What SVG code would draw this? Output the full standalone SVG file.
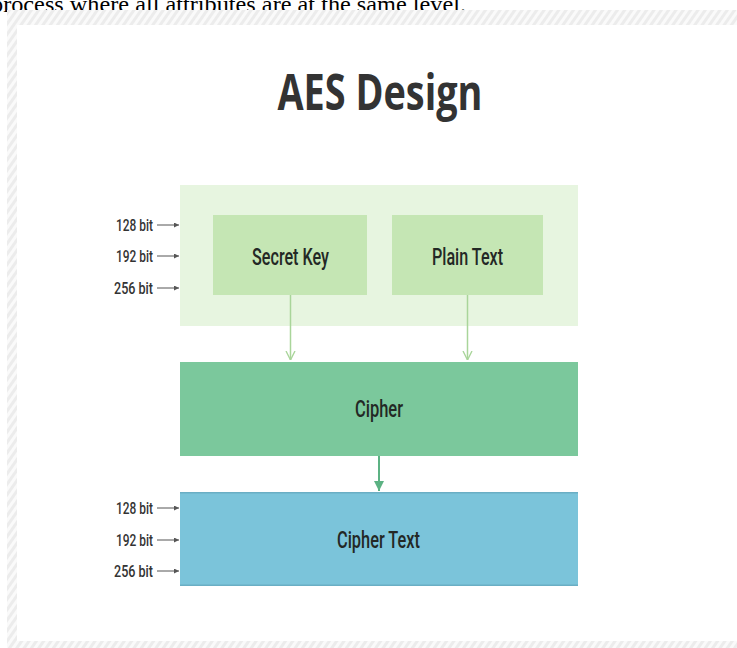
<svg xmlns="http://www.w3.org/2000/svg" width="737" height="648" viewBox="0 0 737 648">
<defs>
<pattern id="hatch" width="6" height="6" patternUnits="userSpaceOnUse" patternTransform="rotate(35)">
<rect width="6" height="6" fill="#fafafa"/>
<rect width="3" height="6" fill="#ececec"/>
</pattern>
<marker id="ah-small" viewBox="0 0 6 6" refX="6" refY="3" markerWidth="5" markerHeight="5" orient="auto" markerUnits="userSpaceOnUse">
<path d="M0,0 L6,3 L0,6 Z" fill="#555"/>
</marker>
<marker id="ah-light" viewBox="0 0 10 10" refX="10" refY="5" markerWidth="9" markerHeight="12" orient="auto" markerUnits="userSpaceOnUse">
<path d="M0,0 L10,5 L0,10" fill="none" stroke="#a9d59a" stroke-width="1.5"/>
</marker>
<marker id="ah-dark" viewBox="0 0 10 10" refX="10" refY="5" markerWidth="10" markerHeight="12" orient="auto" markerUnits="userSpaceOnUse">
<path d="M0,0 L10,5 L0,10 Z" fill="#5cb283"/>
</marker>
</defs>
<style>
.lbl{font-family:Roboto,"Liberation Sans",Arial,sans-serif;font-weight:500;font-size:16px;fill:#333;}
.node{font-family:Roboto,"Liberation Sans",Arial,sans-serif;font-weight:500;font-size:23px;fill:#232825;text-anchor:middle;}
.tick{stroke:#555;stroke-width:1;marker-end:url(#ah-small);}
</style>
<rect width="737" height="648" fill="#fff"/>
<text x="-9" y="12" font-family="Liberation Serif,Times New Roman,serif" font-size="24" fill="#000" textLength="475" lengthAdjust="spacingAndGlyphs">process where all attributes are at the same level.</text>
<path d="M7,10 H737 V648 H7 Z M17,25 V641 H737 V25 Z" fill="url(#hatch)" fill-rule="evenodd"/>
<rect x="17" y="25" width="720" height="616" fill="#fff"/>
<text x="380" y="110" font-family="Open Sans,Liberation Sans,sans-serif" font-weight="bold" font-size="50" fill="#333" text-anchor="middle" textLength="205" lengthAdjust="spacingAndGlyphs">AES Design</text>
<g id="inputs">
<rect x="180" y="185" width="398" height="141" fill="#e7f5e0"/>
</g>
<g id="secret-key">
<rect x="213" y="215" width="154" height="80" fill="#c5e6b4"/>
<text class="node" x="290.5" y="265" textLength="77" lengthAdjust="spacingAndGlyphs">Secret Key</text>
</g>
<g id="plain-text">
<rect x="392" y="215" width="151" height="80" fill="#c5e6b4"/>
<text class="node" x="467.5" y="265" textLength="71" lengthAdjust="spacingAndGlyphs">Plain Text</text>
</g>
<g id="cipher">
<rect x="180" y="362" width="398" height="94" fill="#7bc89c"/>
<text class="node" x="379" y="417" font-size="21" textLength="48" lengthAdjust="spacingAndGlyphs">Cipher</text>
</g>
<g id="cipher-text">
<rect x="180" y="492" width="398" height="94" fill="#7bc4da"/>
<rect x="180" y="492" width="398" height="1.5" fill="#6aaec4"/>
<rect x="180" y="584.5" width="398" height="1.5" fill="#6aaec4"/>
<text class="node" x="378.5" y="548" textLength="83" lengthAdjust="spacingAndGlyphs">Cipher Text</text>
</g>
<g id="key-sizes-top">
<text class="lbl" x="116" y="231" textLength="37" lengthAdjust="spacingAndGlyphs">128 bit</text>
<text class="lbl" x="116" y="262" textLength="37" lengthAdjust="spacingAndGlyphs">192 bit</text>
<text class="lbl" x="114" y="294" textLength="39" lengthAdjust="spacingAndGlyphs">256 bit</text>
</g>
<g id="key-sizes-bottom">
<text class="lbl" x="116" y="514" textLength="37" lengthAdjust="spacingAndGlyphs">128 bit</text>
<text class="lbl" x="116" y="546" textLength="37" lengthAdjust="spacingAndGlyphs">192 bit</text>
<text class="lbl" x="114" y="577" textLength="39" lengthAdjust="spacingAndGlyphs">256 bit</text>
</g>
<g id="connectors">
<line class="tick" x1="157" y1="225" x2="179" y2="225"/>
<line class="tick" x1="157" y1="256" x2="179" y2="256"/>
<line class="tick" x1="157" y1="288" x2="179" y2="288"/>
<line class="tick" x1="157" y1="508" x2="179" y2="508"/>
<line class="tick" x1="157" y1="540" x2="179" y2="540"/>
<line class="tick" x1="157" y1="571" x2="179" y2="571"/>
<line x1="290.5" y1="295" x2="290.5" y2="360" stroke="#a9d59a" stroke-width="1.5" marker-end="url(#ah-light)"/>
<line x1="467.5" y1="295" x2="467.5" y2="360" stroke="#a9d59a" stroke-width="1.5" marker-end="url(#ah-light)"/>
<line x1="379" y1="456" x2="379" y2="491" stroke="#5cb283" stroke-width="2" marker-end="url(#ah-dark)"/>
</g>
</svg>
